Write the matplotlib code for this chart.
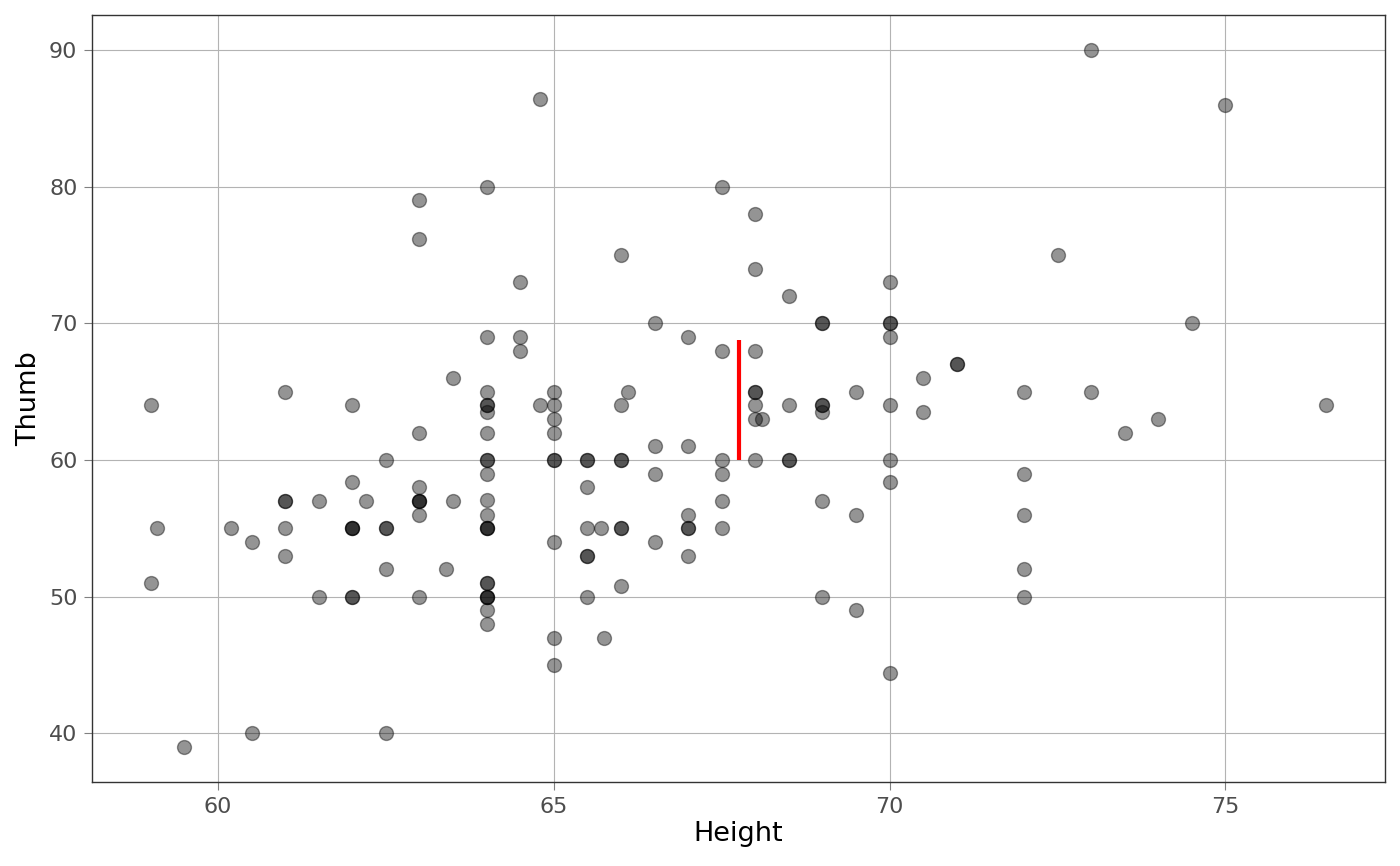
import matplotlib
matplotlib.use("Agg")
import matplotlib.pyplot as plt
import numpy as np

# Height / Thumb pairs (repeats = overlapping points)
height = [
    59, 59.1, 59, 59.5, 60.2, 60.5, 60.5,
    61, 61, 61, 61, 61, 61.5, 61.5,
    62, 62, 62, 62, 62, 62, 62, 62.2,
    62.5, 62.5, 62.5, 62.5, 62.5,
    63, 63, 63, 63, 63, 63, 63, 63, 63, 63.4, 63.5, 63.5,
    64, 64, 64, 64, 64, 64, 64, 64, 64, 64, 64, 64, 64, 64, 64, 64, 64, 64, 64, 64, 64, 64,
    64.5, 64.5, 64.5, 64.8, 64.8,
    65, 65, 65, 65, 65, 65, 65, 65, 65,
    65.5, 65.5, 65.5, 65.5, 65.5, 65.5, 65.5, 65.7, 65.75,
    66, 66, 66, 66, 66, 66, 66, 66.1,
    66.5, 66.5, 66.5, 66.5,
    67, 67, 67, 67, 67, 67,
    67.5, 67.5, 67.5, 67.5, 67.5, 67.5,
    68, 68, 68, 68, 68, 68, 68, 68.1, 68,
    68.5, 68.5, 68.5, 68.5,
    69, 69, 69, 69, 69, 69, 69,
    69.5, 69.5, 69.5,
    70, 70, 70, 70, 70, 70, 70, 70,
    70.5, 70.5, 71, 71,
    72, 72, 72, 72, 72, 72.5, 73, 73, 73.5, 74, 74.5, 75, 76.5,
]
thumb = [
    64, 55, 51, 39, 55, 54, 40,
    65, 57, 57, 55, 53, 57, 50,
    64, 58.4, 55, 55, 55, 50, 50, 57,
    60, 55, 55, 52, 40,
    79, 76.2, 62, 58, 57, 57, 57, 56, 50, 52, 66, 57,
    80, 69, 65, 64, 64, 63.5, 62, 60, 60, 59, 57.1, 56, 55, 55, 55, 51, 51, 50, 50, 50, 49, 48,
    73, 69, 68, 86.4, 64,
    65, 64, 63, 62, 60, 60, 54, 47, 45,
    60, 60, 58, 55, 53, 53, 50, 55, 47,
    75, 64, 60, 60, 55, 55, 50.8, 65,
    70, 61, 59, 54,
    69, 61, 56, 55, 55, 53,
    80, 68, 60, 59, 57, 55,
    78, 74, 68, 65, 65, 64, 63, 63, 60,
    72, 64, 60, 60,
    70, 70, 64, 64, 63.5, 57, 50,
    65, 56, 49,
    73, 70, 70, 69, 64, 60, 58.4, 44.4,
    66, 63.5, 67, 67,
    65, 59, 56, 52, 50, 75, 90, 65, 62, 63, 70, 86, 64,
]

# red vertical segment
seg_x = [67.76, 67.76]
seg_y = [60, 68.77]

fig = plt.figure(figsize=(14, 8.66), dpi=100)
ax = fig.add_axes([0.0657, 0.097, 0.9236, 0.8857])

ax.scatter(height, thumb, s=100, color="black", alpha=0.42,
           edgecolors="black", linewidths=1.0, zorder=3)
ax.plot(seg_x, seg_y, color="red", linewidth=3, solid_capstyle="butt", zorder=4)

ax.margins(0.05)
ax.set_xticks([60, 65, 70, 75])
ax.set_yticks([40, 50, 60, 70, 80, 90])
ax.grid(True, color="#b3b3b3", linewidth=0.8, zorder=0)
ax.set_axisbelow(True)
for sp in ax.spines.values():
    sp.set_color("#333333")
    sp.set_linewidth(1.0)
ax.tick_params(axis="both", length=6, width=0.8, color="#808080",
               labelsize=16, labelcolor="#4d4d4d", pad=4.5)

ax.set_xlabel("Height", fontsize=19.5, labelpad=3)
ax.set_ylabel("Thumb", fontsize=19.5, labelpad=5)

fig.savefig("out.png", dpi=100)
